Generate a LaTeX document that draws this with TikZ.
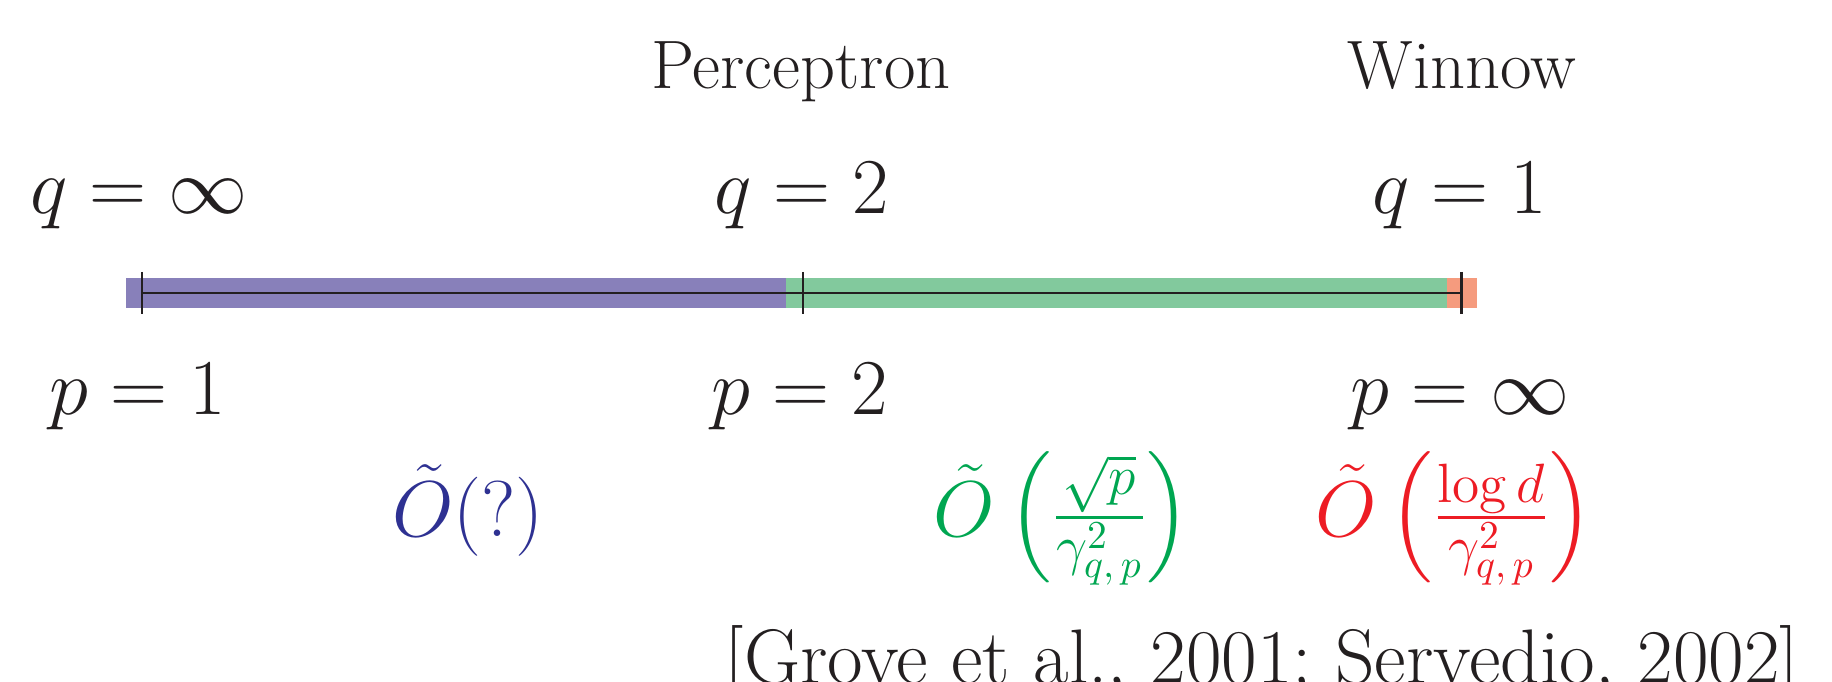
\RequirePackage{fix-cm}
\documentclass[tikz,border=0pt]{standalone}
\usepackage{amsmath}
\usepackage{tikz}
\usetikzlibrary{positioning}

\definecolor{barblue}{HTML}{8880BA}
\definecolor{bargreen}{HTML}{82C99D}
\definecolor{barorange}{HTML}{F59B7E}
\definecolor{txtblue}{HTML}{2E3192}
\definecolor{txtgreen}{HTML}{00A651}
\definecolor{txtred}{HTML}{ED1C24}
\definecolor{ink}{HTML}{231F20}

\begin{document}
\begin{tikzpicture}[x=0.01cm, y=-0.01cm,
    txt/.style = {anchor=base, inner sep=0pt, text=ink, font=\fontsize{19.5}{23}\selectfont},
    eq/.style = {anchor=base, inner sep=0pt, text=ink, font=\fontsize{22.5}{27}\selectfont},
    axis/.style = {draw=ink, line width=0.85pt}]
    \useasboundingbox (0,0) rectangle (1832,682);

    % coloured ranges
    \fill[barblue] (126,278) rectangle (786,308);
    \fill[bargreen] (786,278) rectangle (1447,308);
    \fill[barorange] (1447,278) rectangle (1477,308);

    \coordinate (A) at (142,293);
    \coordinate (B) at (803,293);
    \coordinate (C) at (1461,293);
    \draw[axis] (A) -- (C);
    \foreach \t in {A,B,C}
        \draw[axis] ([yshift=6pt]\t) -- ([yshift=-6pt]\t);

    \node[txt] (perc) at (801,89) {Perceptron};
    \node[txt] (winn) at (1462,89) {Winnow};

    \node[eq] (qinf) at (139,214) {$q=\infty$};
    \node[eq] (qtwo) at (802,214) {$q=2$};
    \node[eq] (qone) at (1460,214) {$q=1$};

    \node[eq] (pone) at (138,415) {$p=1$};
    \node[eq] (ptwo) at (800,415) {$p=2$};
    \node[eq] (pinf) at (1460,415) {$p=\infty$};

    \node[eq, text=txtblue] (rblue) at (468,537) {$\tilde{O}(?)$};
    \node[eq, text=txtgreen] (rgreen) at (1062,537) {$\tilde{O}\left(\frac{\sqrt{p}}{\gamma_{q,\,p}^2}\right)$};
    \node[eq, text=txtred] (rred) at (1454,537) {$\tilde{O}\left(\frac{\log d}{\gamma_{q,\,p}^2}\right)$};

    \node[txt, font=\fontsize{22}{26}\selectfont] (cite) at (1262,683) {[Grove et al., 2001; Servedio, 2002]};
\end{tikzpicture}
\end{document}
